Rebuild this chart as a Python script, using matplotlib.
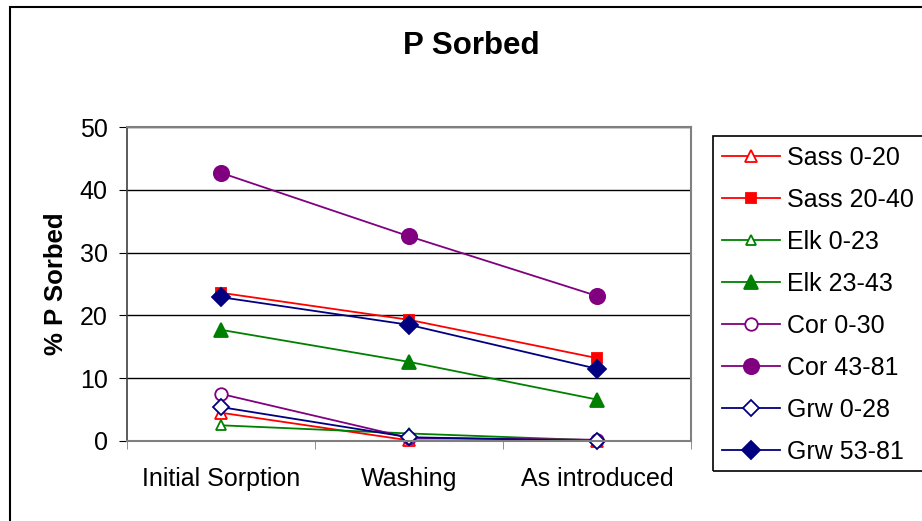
import matplotlib
matplotlib.use('Agg')
import matplotlib.pyplot as plt
from matplotlib.patches import Rectangle

plt.rcParams['font.family'] = ['Liberation Sans', 'DejaVu Sans']

categories = ['Initial Sorption', 'Washing', 'As introduced']
series_names = ['Sass 0-20', 'Sass 20-40', 'Elk 0-23', 'Elk 23-43',
                'Cor 0-30', 'Cor 43-81', 'Grw 0-28', 'Grw 53-81']
sass_0_20 = [4.5, 0.1, 0.0]
sass_20_40 = [23.6, 19.3, 13.2]
elk_0_23 = [2.5, 1.2, 0.1]
elk_23_43 = [17.7, 12.6, 6.6]
cor_0_30 = [7.5, 0.5, 0.2]
cor_43_81 = [42.7, 32.6, 23.1]
grw_0_28 = [5.4, 0.6, 0.0]
grw_53_81 = [22.9, 18.5, 11.5]

values = [sass_0_20, sass_20_40, elk_0_23, elk_23_43,
          cor_0_30, cor_43_81, grw_0_28, grw_53_81]
colors = ['#ff0000', '#ff0000', '#008000', '#008000',
          '#800080', '#800080', '#000080', '#000080']
markers = ['^', 's', '^', '^', 'o', 'o', 'D', 'D']
filled = [False, True, False, True, False, True, False, True]
sizes = [9, 7, 7, 10, 9, 11, 8, 9]

fig = plt.figure(figsize=(9.22, 5.21), dpi=100)
ax = fig.add_axes([127 / 922, 80 / 521, 564 / 922, 314 / 521])

x = list(range(len(categories)))
handles = []
for name, vals, c, m, f, s in zip(series_names, values, colors, markers, filled, sizes):
    h, = ax.plot(x, vals, color=c, lw=1.3, marker=m, markersize=s,
                 markerfacecolor=c if f else 'white', markeredgecolor=c,
                 markeredgewidth=1.3, label=name, clip_on=False)
    handles.append(h)

ax.set_xlim(-0.5, 2.5)
ax.set_ylim(0, 50)
ax.set_yticks([0, 10, 20, 30, 40, 50])
ax.set_xticks(x)
ax.set_xticklabels(categories)
ax.set_xticks([-0.5, 0.5, 1.5, 2.5], minor=True)
ax.tick_params(axis='x', which='major', length=0, pad=19, labelsize=18)
ax.tick_params(axis='x', which='minor', length=6, color='#808080')
ax.tick_params(axis='y', length=6, pad=8, labelsize=18)
ax.yaxis.grid(True, color='black', lw=1)
ax.set_axisbelow(True)
for side in ['top', 'right', 'bottom']:
    ax.spines[side].set_color('#808080')
    ax.spines[side].set_linewidth(1.5)
ax.spines['left'].set_color('#404040')
ax.spines['left'].set_linewidth(1.2)
ax.set_ylabel('% P Sorbed', fontsize=18.5, fontweight='bold', labelpad=8)

fig.text(471 / 922, 1 - 46 / 521, 'P Sorbed', fontsize=22.5, fontweight='bold',
         ha='center', va='center')

# outer chart border and legend box
fig.patches.append(Rectangle((10 / 922, -0.1), 1.0, 1.1 - 7 / 521,
                             transform=fig.transFigure, fill=False,
                             edgecolor='black', lw=1.5))
fig.patches.append(Rectangle((713 / 922, 1 - 471 / 521), 0.5, 335 / 521,
                             transform=fig.transFigure, fill=False,
                             edgecolor='black', lw=1.2))

fig.legend(handles=handles, loc='upper left',
           bbox_to_anchor=(722 / 922, 1 - 146 / 521),
           frameon=False, fontsize=18, handlelength=2.3, handletextpad=0.3,
           labelspacing=0.72, borderaxespad=0, borderpad=0)

fig.savefig('out.png', dpi=100)
